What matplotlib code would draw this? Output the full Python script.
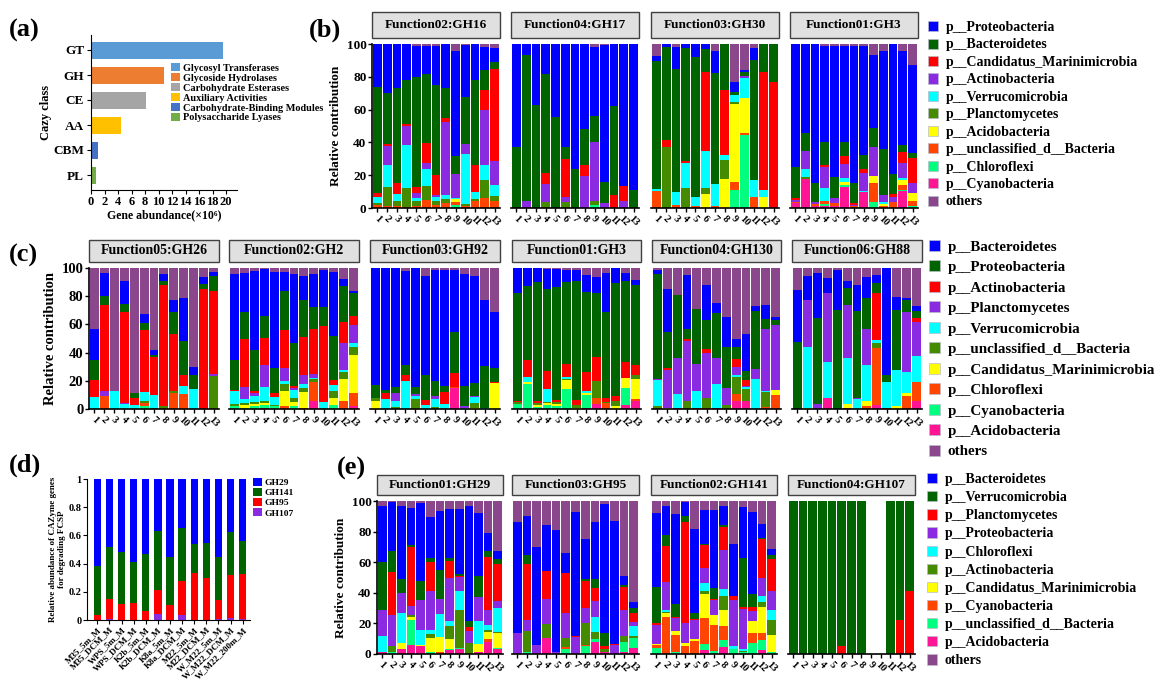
import numpy as np
import matplotlib
matplotlib.use('Agg')
import matplotlib.pyplot as plt
from matplotlib.patches import Rectangle, Patch

plt.rcParams['font.family'] = ['Liberation Serif', 'DejaVu Serif']
plt.rcParams['font.weight'] = 'bold'
plt.rcParams['axes.labelweight'] = 'bold'

W, H = 1166, 692

# ---------------- panel (a) data ----------------
cazy_class = ['GT', 'GH', 'CE', 'AA', 'CBM', 'PL']
cazy_names = ['Glycosyl Transferases', 'Glycoside Hydrolases', 'Carbohydrate Esterases',
              'Auxiliary Activities', 'Carbohydrate-Binding Modules', 'Polysaccharide Lyases']
cazy_abund = [19.5, 10.8, 8.1, 4.5, 1.0, 0.7]
cazy_colors = ['#5B9BD5', '#ED7D31', '#A5A5A5', '#FFC000', '#4472C4', '#70AD47']

# ---------------- common taxon colours (by legend position) ----------------
tax_colors = ['#0000FF', '#006400', '#FF0000', '#8A2BE2', '#00FFFF', '#458B00',
              '#FFFF00', '#FF4500', '#00FF7F', '#FF1493', '#8B478B']
bar_ids = [str(i) for i in range(1, 14)]

# ---------------- panel (b) ----------------
b_taxa = ['p__Proteobacteria', 'p__Bacteroidetes', 'p__Candidatus_Marinimicrobia',
          'p__Actinobacteria', 'p__Verrucomicrobia', 'p__Planctomycetes', 'p__Acidobacteria',
          'p__unclassified_d__Bacteria', 'p__Chloroflexi', 'p__Cyanobacteria', 'others']
b_titles = ['Function02:GH16', 'Function04:GH17', 'Function03:GH30', 'Function01:GH3']
# each row is one bar, values in legend order
b_gh16 = [[26, 65, 2.5, 0, 3.5, 1, 0, 2, 0, 0, 0],
          [30, 31, 1, 12, 13, 12, 0, 1, 0, 0, 0],
          [27, 57.5, 7, 0, 4.5, 3, 0, 1, 0, 0, 0],
          [22, 27, 1, 11.5, 26.5, 11.5, 0, 0.5, 0, 0, 0],
          [19, 67, 4, 3, 2, 3, 0, 1, 0, 0, 1],
          [17.5, 42, 12, 4, 10, 8.5, 0, 5, 0, 0, 1],
          [24, 55, 12, 1, 3, 2, 0, 2, 0, 0, 1],
          [27, 18, 2.5, 44.5, 2.5, 2.5, 0, 3, 0, 0, 0],
          [63.5, 11.5, 0, 14.5, 0.5, 0, 2, 1.5, 2, 0, 4.5],
          [32, 28.5, 0, 6, 30.5, 1.5, 0, 1, 0, 0, 0.5],
          [22, 52, 16.5, 0, 4, 1, 0, 4.5, 0, 0, 0],
          [14, 12, 12.5, 33.5, 9, 11, 0, 6, 0, 0, 2],
          [8.5, 4, 56.5, 14.5, 6.5, 3, 0, 4.5, 0, 0, 2.5]]
b_gh17 = [[63, 37, 0, 0, 0, 0, 0, 0, 0, 0, 0],
          [7, 88.5, 0, 4.5, 0, 0, 0, 0, 0, 0, 0],
          [37, 63, 0, 0, 0, 0, 0, 0, 0, 0, 0],
          [18.5, 60, 7, 11, 0, 3.5, 0, 0, 0, 0, 0],
          [44.5, 55.5, 0, 0, 0, 0, 0, 0, 0, 0, 0],
          [63, 7, 23, 3.5, 0, 3.5, 0, 0, 0, 0, 0],
          [76, 24, 0, 0, 0, 0, 0, 0, 0, 0, 0],
          [52, 22, 6.5, 19.5, 0, 0, 0, 0, 0, 0, 0],
          [42, 15.5, 0, 36.5, 0, 2, 0, 0, 2, 0, 2],
          [83.5, 13, 0, 3, 0, 0, 0, 0, 0, 0, 0.5],
          [37.5, 54.5, 8, 0, 0, 0, 0, 0, 0, 0, 0],
          [86.5, 0, 9, 4.5, 0, 0, 0, 0, 0, 0, 0],
          [89, 11, 0, 0, 0, 0, 0, 0, 0, 0, 0]]
b_gh30 = [[3, 78, 0, 0, 1, 0, 0, 10.5, 0, 0, 7.5],
          [2, 56.5, 4, 0, 0, 37.5, 0, 0, 0, 0, 0],
          [13, 75.5, 0, 0, 7.5, 0, 0, 2, 0, 0, 2],
          [2.5, 69, 1, 0, 15, 12.5, 0, 0, 0, 0, 0],
          [8, 85.5, 0, 0, 5.5, 0, 0, 1, 0, 0, 0],
          [3, 14, 48, 0, 23, 3.5, 8.5, 0, 0, 0, 0],
          [13, 68, 0, 0, 13, 0, 0, 1.5, 0, 0, 4.5],
          [0, 28, 39.5, 0, 3, 12, 17.5, 0, 0, 0, 0],
          [6, 2, 0, 0, 4.5, 1, 47.5, 5, 11, 0, 23],
          [1, 2.5, 0, 1, 12.5, 0, 21.5, 1, 44.5, 0, 16],
          [7.5, 73, 0, 0, 10.5, 0, 0, 6.5, 0, 0, 2.5],
          [0, 17, 72, 0, 4.5, 0, 6.5, 0, 0, 0, 0],
          [0, 23, 77, 0, 0, 0, 0, 0, 0, 0, 0]]
b_gh3 = [[75, 19, 1, 1.5, 0, 0, 0, 0.5, 0, 3, 0],
         [54, 11.5, 0, 11, 4.5, 1.5, 0, 0, 0, 17.5, 0],
         [85, 11.5, 0, 1, 0, 0, 0, 1.5, 0, 1, 0],
         [58.5, 14.5, 1, 12.5, 8.5, 0, 0, 1.5, 1, 1.5, 1],
         [80, 13, 0, 3, 0, 0, 0, 2, 0, 1, 1],
         [58, 8.5, 5, 9, 2, 0, 2, 0, 1, 13, 1.5],
         [83, 12.5, 1, 0.5, 0, 0, 0, 1.5, 0, 0, 1.5],
         [66, 8.5, 2.5, 11, 1, 0, 0, 0, 0, 9.5, 1.5],
         [45, 11.5, 0, 17.5, 0, 0, 4.5, 11.5, 3.5, 0, 6.5],
         [60, 28, 0, 4.5, 1, 0, 1, 1.5, 0, 0, 4],
         [79, 12.5, 1.5, 3.5, 0, 0, 0, 3.5, 0, 0, 0],
         [57, 4.5, 6.5, 9.5, 1, 0, 3, 3, 0.5, 10.5, 4.5],
         [54, 3, 15, 6.5, 0, 0, 5, 3, 1, 0, 12.5]]

# ---------------- panel (c) ----------------
c_taxa = ['p__Bacteroidetes', 'p__Proteobacteria', 'p__Actinobacteria', 'p__Planctomycetes',
          'p__Verrucomicrobia', 'p__unclassified_d__Bacteria', 'p__Candidatus_Marinimicrobia',
          'p__Chloroflexi', 'p__Cyanobacteria', 'p__Acidobacteria', 'others']
c_titles = ['Function05:GH26', 'Function02:GH2', 'Function03:GH92', 'Function01:GH3',
            'Function04:GH130', 'Function06:GH88']
c_gh26 = [[22, 14.5, 12, 0, 8.5, 0, 0, 0, 0, 0, 43],
          [16.5, 6.5, 60.5, 4, 0, 0, 0, 9, 0, 0, 3.5],
          [0, 0, 0, 0.5, 12.5, 0, 0, 0, 0, 0, 87],
          [16, 6, 64, 1, 3.5, 0, 0, 0, 0, 0, 9.5],
          [0, 4, 4.5, 0, 3, 0, 0, 0, 0, 0, 88.5],
          [6.5, 5, 44, 0, 6.5, 1.5, 0, 2, 2, 0, 32.5],
          [4, 1, 27, 0, 9, 1, 0, 0, 0, 0, 58],
          [5, 2.5, 86, 0, 0, 2, 0, 0, 0, 0, 4.5],
          [8, 16, 40.5, 0, 0, 1, 0, 11.5, 0, 0, 23],
          [31, 24, 8, 0, 5.5, 0, 0, 10.5, 0, 0, 21],
          [6, 9.5, 0.5, 0, 14, 0, 0, 0, 0, 0, 70],
          [5, 3.5, 85, 0, 0, 0, 0, 0, 0, 0, 6.5],
          [3.5, 10, 59, 1.5, 0, 23.5, 0, 0, 0, 0, 2.5]]
c_gh2 = [[60.5, 21.5, 1, 0, 9, 1.5, 0, 0, 2, 0, 4.5],
         [28, 18.5, 34.5, 8.5, 3, 1.5, 1.5, 0, 1, 0, 3.5],
         [56, 29.5, 1.5, 1.5, 4.5, 1.5, 1.5, 0, 2, 0, 2],
         [33, 15.5, 19.5, 15.5, 9.5, 2, 1, 0, 2, 1, 1],
         [68.5, 18, 2.5, 0, 5.5, 1, 0, 0, 2, 0, 2.5],
         [13.5, 27.5, 27, 9, 2.5, 4.5, 11, 2, 0, 0, 3],
         [49, 31, 1, 1.5, 5.5, 3, 3, 0, 2, 0, 4],
         [17.5, 26, 27, 6.5, 2.5, 3, 11, 1, 0, 0, 5.5],
         [24, 15.5, 32, 2.5, 1, 1.5, 0, 13.5, 0, 6, 4],
         [26, 13.5, 54, 0, 4, 0, 0, 0, 1, 0, 1.5],
         [45, 31.5, 3.5, 0, 4, 5, 5, 0, 3, 0, 3],
         [5, 25, 15, 19, 1.5, 5.5, 15.5, 4.5, 0, 1, 8],
         [2, 16, 6.5, 13, 2.5, 5.5, 27.5, 9, 0, 2, 16]]
c_gh92 = [[83, 9.5, 0, 0, 0, 1.5, 6, 0, 0, 0, 0],
          [86.5, 2, 4.5, 0, 7, 0, 0, 0, 0, 0, 0],
          [84.5, 4.5, 0, 5, 4.5, 1.5, 0, 0, 0, 0, 0],
          [67, 7, 4, 0, 20, 0, 0, 0, 0, 0, 2],
          [84.5, 5, 0, 1.5, 2, 7, 0, 0, 0, 0, 0],
          [70.5, 17.5, 4, 0, 2.5, 0, 0, 0, 0, 0, 5.5],
          [78.5, 10.5, 0, 2.5, 5.5, 1.5, 0, 0, 0, 0, 1.5],
          [82, 4.5, 8.5, 0, 3.5, 0, 0, 0, 0, 0, 1.5],
          [44, 29, 10, 0, 0, 0, 0, 0.5, 0, 15, 1.5],
          [80, 14, 0, 1, 1, 0, 0, 0, 0, 0, 4],
          [76, 9, 0, 1, 4.5, 3, 1, 0, 0, 0, 5.5],
          [47, 29.5, 0, 0, 1, 0, 0, 0, 0, 0, 22.5],
          [39.5, 9.5, 1, 0, 0, 0, 18.5, 0, 0, 0, 31.5]]
c_gh3 = [[18, 76, 1, 0, 0, 1.5, 0, 0, 3.5, 0, 0],
         [12.5, 52.5, 12.5, 0, 3.5, 0, 1, 0, 18, 0, 0],
         [10, 84.5, 1.5, 0, 0, 1, 1.5, 0, 1.5, 0, 0],
         [14, 58, 13, 0, 9, 0.5, 1.5, 0, 3, 0, 1],
         [12.5, 80, 1.5, 0, 0, 1.5, 1.5, 0, 2, 0, 1],
         [8.5, 58, 9, 0, 2, 0.5, 6, 0, 14.5, 0, 1.5],
         [7.5, 84.5, 3.5, 0, 0, 2, 1, 0, 0, 0, 1.5],
         [12, 57, 13, 0, 2, 0, 1, 0, 9, 1, 5],
         [11.5, 45, 17, 0, 0, 12.5, 0, 4, 0, 3.5, 6.5],
         [28, 61, 2.5, 0, 0, 1, 0, 4, 0, 0, 3.5],
         [10.5, 80.5, 3, 0, 0, 4, 2, 0, 0, 0, 0],
         [5.5, 58, 11, 0, 0, 0, 7, 0, 12, 3, 3.5],
         [3.5, 57, 7, 0, 0, 3, 14, 1.5, 0, 5.5, 8.5]]
c_gh130 = [[3, 74.5, 0, 0.5, 18.5, 2, 0, 0, 0, 0, 1.5],
           [30.5, 25.5, 1, 27, 0, 0, 1, 0, 0, 0, 15],
           [0, 44, 0, 26, 9.5, 0, 0, 0, 0, 1, 19.5],
           [38.5, 6.5, 1.5, 43, 0, 5.5, 0, 0, 0, 0, 5],
           [0, 39, 0, 19.5, 11.5, 0, 0, 1, 0, 0, 29],
           [25, 20.5, 2.5, 32.5, 0, 6.5, 0, 1, 0, 0, 12],
           [7.5, 31.5, 0, 19, 16.5, 0, 0, 0, 0, 1, 24.5],
           [21, 29, 0, 12, 0, 3, 0, 0, 0, 0, 35],
           [5.5, 8.5, 6, 5.5, 1, 12.5, 0, 4.5, 0, 6, 50.5],
           [26, 6.5, 4, 1, 1.5, 8, 0, 0, 0, 6, 47],
           [3.5, 41, 0, 7, 21.5, 0, 0, 0, 0, 0, 27],
           [10.5, 7, 0, 43.5, 1, 10.5, 0, 1.5, 0, 0, 26],
           [2.5, 3.5, 0, 46, 0, 0, 3.5, 10, 0, 0, 34.5]]
c_gh88 = [[37, 47.5, 0, 0, 0, 0, 0, 0, 0, 0, 15.5],
          [17, 0, 0, 33, 43, 0, 1, 0, 0, 0, 6],
          [32, 61, 0, 3.5, 0, 0, 0, 0, 0, 0, 3.5],
          [10.5, 0, 0, 49, 25.5, 0, 0, 0, 0.5, 7.5, 7],
          [28.5, 70, 0, 0, 0, 0, 0, 0, 0, 0, 1.5],
          [4.5, 12.5, 0, 37.5, 32.5, 0, 2.5, 0, 0, 1, 9.5],
          [18.5, 62, 0, 0.5, 7, 0, 0, 0, 0, 0, 12],
          [15, 21.5, 0, 26, 25, 0.5, 3.5, 2, 0, 0, 6.5],
          [5.5, 7.5, 33, 0, 2, 3.5, 0, 40.5, 0, 3, 5],
          [76, 5, 0, 0, 18, 0, 0, 1, 0, 0, 0],
          [9, 43, 0, 0, 25.5, 0, 2, 0, 0, 0, 20.5],
          [2, 8, 0, 43, 15, 0, 1.5, 9.5, 0, 0, 21],
          [3.5, 5, 2.5, 24.5, 18, 0.5, 0, 13.5, 0, 5.5, 27]]

# ---------------- panel (d) ----------------
d_samples = ['M35_5m_M', 'M35_DCM_M', 'WPS_5m_M', 'WPS_DCM_M', 'K2b_5m_M', 'K2b_DCM_M',
             'K8a_5m_M', 'K8a_DCM_M', 'M22_5m_M', 'M22_DCM_M', 'W_M22_5m_M', 'W_M22_DCM_M',
             'W_M22_200m_M']
d_gh29 = [0.62, 0.48, 0.52, 0.59, 0.53, 0.37, 0.55, 0.35, 0.46, 0.455, 0.55, 0.375, 0.44]
d_gh141 = [0.345, 0.37, 0.37, 0.29, 0.405, 0.415, 0.345, 0.37, 0.21, 0.25, 0.305, 0.305, 0.235]
d_gh95 = [0.035, 0.145, 0.11, 0.12, 0.065, 0.17, 0.105, 0.245, 0.33, 0.295, 0.14, 0.308, 0.32]
d_gh107 = [0, 0.005, 0, 0, 0, 0.045, 0, 0.035, 0, 0, 0.005, 0.012, 0.005]

# ---------------- panel (e) ----------------
e_taxa = ['p__Bacteroidetes', 'p__Verrucomicrobia', 'p__Planctomycetes', 'p__Proteobacteria',
          'p__Chloroflexi', 'p__Actinobacteria', 'p__Candidatus_Marinimicrobia',
          'p__Cyanobacteria', 'p__unclassified_d__Bacteria', 'p__Acidobacteria', 'others']
e_titles = ['Function01:GH29', 'Function03:GH95', 'Function02:GH141', 'Function04:GH107']
e_gh29 = [[36.5, 31, 0, 17.5, 10.5, 0, 0, 0, 0, 1, 3.5],
          [32.5, 13.5, 28, 20, 0.5, 4, 0, 0, 1, 0, 0.5],
          [47.5, 9, 0, 13, 19.5, 0, 4.5, 0, 0, 3, 3.5],
          [24.5, 1, 38.5, 6, 0, 1.5, 1.5, 0, 16.5, 6, 4.5],
          [51.5, 12, 0, 20, 9.5, 0, 0.5, 0, 0, 5.5, 1],
          [27, 2.5, 19, 25.5, 2.5, 2.5, 9, 0, 1.5, 0, 10.5],
          [38.5, 19, 0, 10, 15, 0, 10, 1, 0, 0, 6.5],
          [32, 2, 10.5, 28.5, 3, 9, 6, 0, 1, 2.5, 5.5],
          [42, 1.5, 0.5, 9.5, 12, 25, 0, 0, 1, 3, 5.5],
          [75, 4, 2.5, 7.5, 0, 7.5, 0, 0, 0, 0, 3.5],
          [41, 14, 0, 15.5, 15, 0, 5.5, 0, 0, 1, 8],
          [11.5, 4, 34.5, 10, 3.5, 1, 5, 1.5, 0, 8, 21],
          [5, 3, 24.5, 4.5, 15.5, 1, 9.5, 0, 1, 3, 33]]
e_gh95 = [[72, 0, 0, 14, 0, 0, 0, 0, 0, 0, 14],
          [26, 5.5, 36.5, 7.5, 0, 13.5, 0, 0, 1.5, 0, 9.5],
          [64, 0, 0, 6, 0, 0, 0, 0, 0, 0, 30],
          [30, 0, 18.5, 16.5, 0, 9, 0, 0, 0, 10.5, 15.5],
          [79.5, 0, 0, 1.5, 0, 0, 0, 0, 0, 0, 19],
          [13, 0, 26.5, 16, 0, 6, 0, 1, 3.5, 0, 34],
          [80.5, 0, 1, 11, 0, 0, 0, 0, 0, 0, 7.5],
          [26, 1, 18, 10, 0, 14, 0, 0.5, 5.5, 0, 25],
          [37, 6, 8.5, 10.5, 9.5, 5, 0, 0, 1.5, 8, 14],
          [84.5, 8.5, 1.5, 0, 0, 2.5, 0, 0, 0, 1, 2],
          [80.5, 0, 0.5, 6, 0, 0, 0, 0, 0, 0, 13],
          [6, 1.5, 14.5, 17.5, 0, 3.5, 0, 0, 6.5, 1.5, 49],
          [4, 3.5, 5.5, 2.5, 6.5, 1.5, 0, 0, 6.5, 4, 66]]
e_gh141 = [[48.5, 23, 1.5, 12.5, 0, 0, 0.5, 2, 4, 0, 8],
           [19, 7.5, 23.5, 18.5, 1, 1, 2, 24.5, 0, 0, 3],
           [59, 8, 1, 8.5, 0, 0, 2.5, 11.5, 1, 0, 8.5],
           [9, 4, 66.5, 12.5, 0.5, 0, 1.5, 5.5, 0, 0, 0.5],
           [55, 3.5, 0.5, 13, 0, 0, 1, 8.5, 0, 0, 18.5],
           [22, 1, 15, 9.5, 5, 2, 16, 17, 4, 2.5, 6],
           [51, 7, 1, 9.5, 0, 0, 6.5, 17, 2, 0, 6],
           [12.5, 1.5, 15, 25.5, 4.5, 9.5, 10, 9.5, 4.5, 4.5, 3],
           [34, 0, 2.5, 30, 2, 0, 0, 0, 3.5, 0, 28],
           [33, 32, 1.5, 26.5, 1, 1, 0, 0, 1, 0, 4],
           [53.5, 8.5, 2.5, 6.5, 0, 0, 7.5, 7, 7, 0, 7.5],
           [9.5, 0.5, 25.5, 11.5, 4, 3, 17.5, 4.5, 6.5, 2.5, 15],
           [3.5, 3, 21, 12, 6.5, 10, 11.5, 0, 1, 0, 31.5]]
e_gh107 = [[0, 100, 0, 0, 0, 0, 0, 0, 0, 0, 0],
           [0, 100, 0, 0, 0, 0, 0, 0, 0, 0, 0],
           [0, 100, 0, 0, 0, 0, 0, 0, 0, 0, 0],
           [0, 100, 0, 0, 0, 0, 0, 0, 0, 0, 0],
           [0, 100, 0, 0, 0, 0, 0, 0, 0, 0, 0],
           [0, 94.5, 5.5, 0, 0, 0, 0, 0, 0, 0, 0],
           [0, 100, 0, 0, 0, 0, 0, 0, 0, 0, 0],
           [0, 100, 0, 0, 0, 0, 0, 0, 0, 0, 0],
           [0, 0, 0, 0, 0, 0, 0, 0, 0, 0, 0],
           [0, 0, 0, 0, 0, 0, 0, 0, 0, 0, 0],
           [0, 100, 0, 0, 0, 0, 0, 0, 0, 0, 0],
           [0, 78, 22, 0, 0, 0, 0, 0, 0, 0, 0],
           [0, 59, 41, 0, 0, 0, 0, 0, 0, 0, 0]]

fig = plt.figure(figsize=(W / 100, H / 100), dpi=100)


def px_axes(l, t, r, b):
    return fig.add_axes([l / W, 1 - b / H, (r - l) / W, (b - t) / H])


stack_order = [9, 8, 7, 6, 5, 4, 3, 2, 1, 0, 10]   # bottom -> top


def facet(box, strip, bars, title, first, ysize, ssize):
    l, t, r, b = box
    ax = px_axes(l, t, r, b)
    vals = np.array(bars, dtype=float).T
    x = np.arange(1, vals.shape[1] + 1)
    bottom = np.zeros(len(x))
    for k in stack_order:
        ax.bar(x, vals[k], bottom=bottom, width=0.9, color=tax_colors[k], linewidth=0)
        bottom += vals[k]
    ax.set_xlim(0.45, 13.55)
    ax.set_ylim(0, 100)
    for s in ['top', 'right']:
        ax.spines[s].set_visible(False)
    ax.spines['bottom'].set_linewidth(1.2)
    ax.set_xticks(x)
    ax.set_xticklabels(bar_ids, rotation=-45, fontsize=7.5)
    ax.tick_params(axis='x', length=3, width=1, pad=1)
    if first:
        ax.spines['left'].set_linewidth(1.2)
        ax.set_yticks([0, 20, 40, 60, 80, 100])
        ax.tick_params(axis='y', labelsize=ysize, length=3, width=1, pad=1)
        ax.set_ylabel('Relative contribution', fontsize=ysize, labelpad=3)
    else:
        ax.spines['left'].set_visible(False)
        ax.tick_params(axis='y', left=False, labelleft=False)
    st, sb = strip
    h = b - t
    ax.add_patch(Rectangle((0, (b - sb) / h), 1, (sb - st) / h, transform=ax.transAxes,
                           clip_on=False, facecolor='#E0E0E0', edgecolor='#404040', lw=1))
    ax.text(0.5, (b - (st + sb) / 2) / h, title, transform=ax.transAxes,
            ha='center', va='center', fontsize=ssize)
    return ax


def taxa_legend(labels, x, y, size, spacing):
    handles = [Patch(facecolor=c, edgecolor='#bbbbcc', lw=0.5) for c in tax_colors]
    fig.legend(handles, labels, loc='upper left', bbox_to_anchor=(x / W, 1 - y / H),
               frameon=False, fontsize=size, handlelength=0.75, handleheight=0.75,
               handletextpad=0.5, labelspacing=spacing, borderpad=0, borderaxespad=0)


# ---------------- (a) ----------------
ax = px_axes(91, 35, 237, 190)
ypos = np.arange(len(cazy_class))[::-1]
ax.barh(ypos, cazy_abund, height=0.68, color=cazy_colors)
ax.set_ylim(-0.6, 5.6)
ax.set_xlim(0, 21.6)
ax.set_yticks(ypos)
ax.set_yticklabels(cazy_class, fontsize=9.5)
ax.set_xticks(range(0, 21, 2))
ax.tick_params(axis='x', labelsize=9, pad=1, length=3)
ax.tick_params(axis='y', pad=2, length=3)
for s in ['top', 'right']:
    ax.spines[s].set_visible(False)
ax.set_xlabel('Gene abundance(×10⁶)', fontsize=8.5, labelpad=1)
ax.set_ylabel('Cazy class', fontsize=9, labelpad=1)
handles = [Patch(facecolor=c) for c in cazy_colors]
fig.legend(handles, cazy_names, loc='upper left', bbox_to_anchor=(171 / W, 1 - 63 / H),
           frameon=False, fontsize=7.4, handlelength=0.85, handleheight=0.85,
           handletextpad=0.3, labelspacing=0.03, borderpad=0, borderaxespad=0)

# ---------------- (b) ----------------
b_boxes = [(372, 44, 500, 208), (511, 44, 639, 208), (651, 44, 779, 208), (790, 44, 918, 208)]
for i, data in enumerate([b_gh16, b_gh17, b_gh30, b_gh3]):
    facet(b_boxes[i], (12, 38), data, b_titles[i], i == 0, 9.5, 9.5)
taxa_legend(b_taxa, 928, 21, 10, 0.32)

# ---------------- (c) ----------------
c_boxes = [(89, 268, 219, 409), (229, 268, 359, 409), (370, 268, 500, 409),
           (512, 268, 641, 409), (652, 268, 781, 409), (792, 268, 922, 409)]
for i, data in enumerate([c_gh26, c_gh2, c_gh92, c_gh3, c_gh130, c_gh88]):
    facet(c_boxes[i], (240, 262), data, c_titles[i], i == 0, 10.5, 10)
taxa_legend(c_taxa, 929, 240, 10.8, 0.45)

# ---------------- (d) ----------------
ax = px_axes(87, 479, 250, 620)
xd = np.arange(len(d_samples))
bot = np.zeros(len(xd))
for vals, col, lab in [(d_gh107, '#8A2BE2', 'GH107'), (d_gh95, '#FF0000', 'GH95'),
                       (d_gh141, '#006400', 'GH141'), (d_gh29, '#0000FF', 'GH29')]:
    ax.bar(xd, vals, bottom=bot, width=0.6, color=col, label=lab, linewidth=0)
    bot += np.array(vals)
ax.set_xlim(-0.85, 12.6)
ax.set_ylim(0, 1)
ax.set_yticks([0, 0.2, 0.4, 0.6, 0.8, 1])
ax.set_yticklabels(['0', '0.2', '0.4', '0.6', '0.8', '1'])
ax.tick_params(axis='y', labelsize=7.5, length=3, pad=1)
ax.set_xticks(xd)
ax.set_xticklabels(d_samples, rotation=45, ha='right', rotation_mode='anchor', fontsize=6.5)
ax.tick_params(axis='x', length=3, pad=1)
for s in ['top', 'right']:
    ax.spines[s].set_visible(False)
ax.set_ylabel('Relative abundance of CAZyme genes\nfor degrading FCSP', fontsize=6.5,
              labelpad=2, linespacing=1.1)
hd, ld = ax.get_legend_handles_labels()
fig.legend(hd[::-1], ld[::-1], loc='upper left', bbox_to_anchor=(253 / W, 1 - 478 / H),
           frameon=False, fontsize=6.8, handlelength=0.9, handleheight=0.9,
           handletextpad=0.3, labelspacing=0.1, borderpad=0, borderaxespad=0)

# ---------------- (e) ----------------
e_boxes = [(377, 501, 503, 654), (512, 501, 639, 654), (651, 501, 777, 654), (788, 501, 915, 654)]
for i, data in enumerate([e_gh29, e_gh95, e_gh141, e_gh107]):
    facet(e_boxes[i], (475, 495), data, e_titles[i], i == 0, 9.5, 9.5)
taxa_legend(e_taxa, 927, 473, 10, 0.37)

# panel letters
for lab, x, y in [('(a)', 9, 30), ('(b)', 309, 30), ('(c)', 9, 255), ('(d)', 9, 465), ('(e)', 337, 468)]:
    fig.text(x / W, 1 - y / H, lab, fontsize=19, fontweight='bold', va='center')

fig.savefig('out.png', dpi=100)
